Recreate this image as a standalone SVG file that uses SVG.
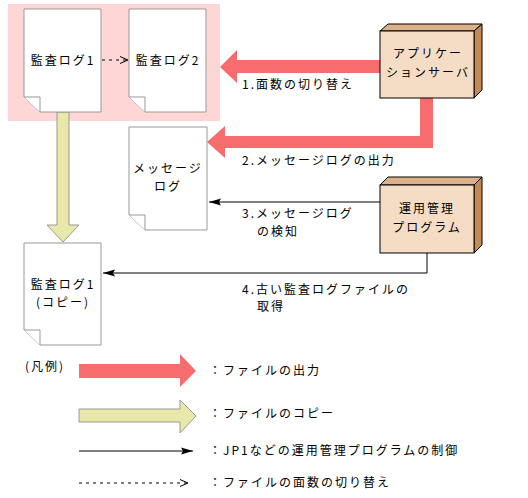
<svg xmlns="http://www.w3.org/2000/svg" width="528" height="498" viewBox="0 0 528 498">
<defs>
<style>
text{font-family:"Noto Sans CJK JP","Liberation Sans",sans-serif;font-size:12px;letter-spacing:2px;fill:#000}
.m{text-anchor:middle}
.doc{fill:#fff;stroke:#999;stroke-width:1}
.red{fill:#f76c6c;stroke:none}
.yel{fill:#e8e8a8;stroke:#999;stroke-width:1}
.front{fill:#f5dcc5;stroke:#000;stroke-width:1}
.top{fill:#dbb189;stroke:#000;stroke-width:1}
.side{fill:#c48a55;stroke:#000;stroke-width:1}
.ln{fill:none;stroke:#000;stroke-width:1}
.dash{fill:none;stroke:#000;stroke-width:1;stroke-dasharray:3,4}
</style>
<marker id="ah" markerUnits="userSpaceOnUse" markerWidth="13" markerHeight="9" refX="12" refY="4.5" orient="auto">
<path d="M0,1 L12,4.5 L0,8 L2,4.5 Z" fill="#000"/>
</marker>
<marker id="oh" markerUnits="userSpaceOnUse" markerWidth="10" markerHeight="9" refX="9" refY="4.5" orient="auto">
<path d="M1,1 L9,4.5 L1,8" fill="none" stroke="#000" stroke-width="1"/>
</marker>
</defs>

<rect x="8" y="4" width="212" height="117" fill="#ffd6d6"/>

<g id="connectors">
<polygon class="red" points="380,60 237,60 237,50 220,67 237,83 237,73 380,73"/>
<polygon class="red" points="433,98 433,148 225,148 225,158 207,142 225,126 225,136 420,136 420,98"/>
<polygon class="yel" points="57,112 69,112 69,225 79,225 63,242 47,225 57,225"/>
<line class="dash" x1="102" y1="60" x2="128" y2="60" marker-end="url(#oh)"/>
<line class="ln" x1="380" y1="202" x2="209" y2="202" marker-end="url(#ah)"/>
<polyline class="ln" points="427,253 427,273 103,273" marker-end="url(#ah)"/>
<text x="242" y="89">1.面数の切り替え</text>
<text x="242" y="165">2.メッセージログの出力</text>
<text x="242" y="218">3.メッセージログ</text>
<text x="257" y="236">の検知</text>
<text x="242" y="294">4.古い監査ログファイルの</text>
<text x="257" y="311">取得</text>
</g>

<g id="auditlog1">
<path class="doc" d="M24,9 H101 V112 H40 L24,97 Z"/>
<path class="doc" d="M24,97 H40 V112"/>
<text class="m" x="63" y="65">監査ログ1</text>
</g>

<g id="auditlog2">
<path class="doc" d="M129,9 H206 V112 H145 L129,97 Z"/>
<path class="doc" d="M129,97 H145 V112"/>
<text class="m" x="168" y="65">監査ログ2</text>
</g>

<g id="appserver">
<polygon class="top" points="380,31 388,24 482,24 474,31"/>
<polygon class="side" points="474,31 482,24 482,90 474,98"/>
<rect class="front" x="380" y="31" width="94" height="67"/>
<text class="m" x="428" y="58">アプリケー</text>
<text class="m" x="428" y="77">ションサーバ</text>
</g>

<g id="messagelog">
<path class="doc" d="M129,127 H207 V230 H145 L129,215 Z"/>
<path class="doc" d="M129,215 H145 V230"/>
<text class="m" x="168" y="173">メッセージ</text>
<text class="m" x="168" y="191">ログ</text>
</g>

<g id="opmgmt">
<polygon class="top" points="380,185 388,177 482,177 474,185"/>
<polygon class="side" points="474,185 482,177 482,245 474,253"/>
<rect class="front" x="380" y="185" width="94" height="68"/>
<text class="m" x="427" y="213">運用管理</text>
<text class="m" x="427" y="232">プログラム</text>
</g>

<g id="auditlogcopy">
<path class="doc" d="M24,243 H101 V345 H40 L24,330 Z"/>
<path class="doc" d="M24,330 H40 V345"/>
<text class="m" x="63" y="289">監査ログ1</text>
<text class="m" x="63" y="307">(コピー)</text>
</g>

<g id="legend">
<text x="25" y="371">(凡例)</text>
<polygon class="red" points="79,364 180,364 180,354 196,371 180,387 180,378 79,378"/>
<text x="209" y="375">：ファイルの出力</text>
<polygon class="yel" points="79,409 180,409 180,400 196,416 180,433 180,422 79,422"/>
<text x="209" y="418">：ファイルのコピー</text>
<line class="ln" x1="79" y1="451" x2="193" y2="451" marker-end="url(#ah)"/>
<text x="209" y="455">：JP1などの運用管理プログラムの制御</text>
<line class="dash" x1="79" y1="483" x2="188" y2="483" marker-end="url(#oh)"/>
<text x="209" y="487">：ファイルの面数の切り替え</text>
</g>
</svg>
